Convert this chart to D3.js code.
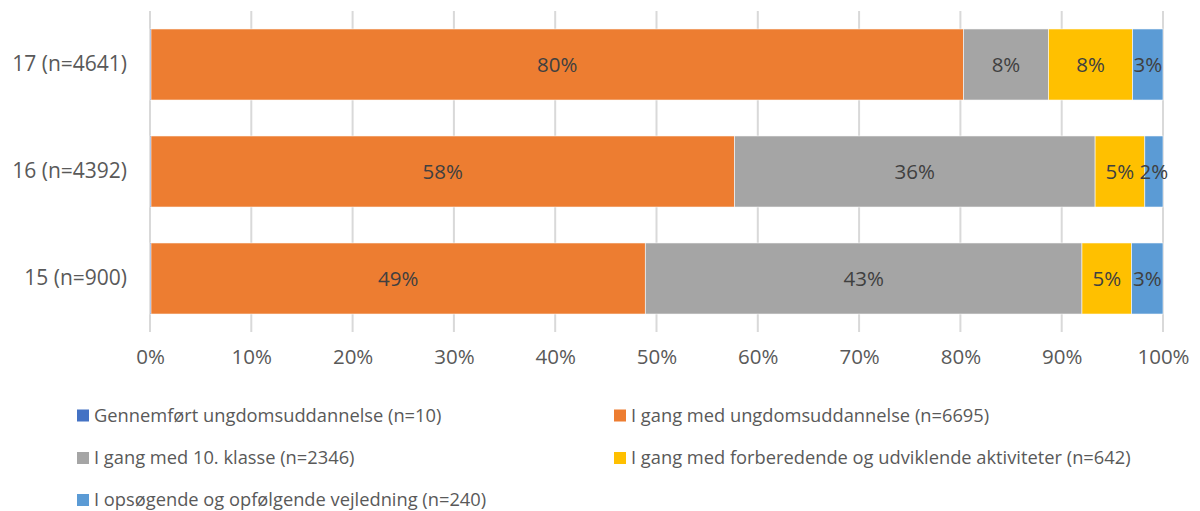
<!DOCTYPE html>
<html><head><meta charset="utf-8">
<script src="https://cdn.jsdelivr.net/npm/d3@7"></script>
<style>body{margin:0;background:#fff}svg{display:block}</style>
</head><body>
<svg id="c" width="1200" height="511"></svg>
<script>
const categories = ["17 (n=4641)", "16 (n=4392)", "15 (n=900)"];
const seriesNames = [
  "Gennemført ungdomsuddannelse (n=10)",
  "I gang med ungdomsuddannelse (n=6695)",
  "I gang med 10. klasse (n=2346)",
  "I gang med forberedende og udviklende aktiviteter (n=642)",
  "I opsøgende og opfølgende vejledning (n=240)"
];
const gennemfoert = [0.1, 0.1, 0.1];
const ungdomsudd = [80.2, 57.6, 48.8];
const tiendeKlasse = [8.4, 35.6, 43.1];
const forberedende = [8.3, 4.9, 4.9];
const vejledning = [3.0, 1.8, 3.1];
const labels17 = ["", "80%", "8%", "8%", "3%"];
const labels16 = ["", "58%", "36%", "5%", "2%"];
const labels15 = ["", "49%", "43%", "5%", "3%"];
const xTicks = [0, 10, 20, 30, 40, 50, 60, 70, 80, 90, 100];
const colors = ["#4472C4", "#ED7D31", "#A5A5A5", "#FFC000", "#5B9BD5"];

const series = [gennemfoert, ungdomsudd, tiendeKlasse, forberedende, vejledning];
const labelSets = [labels17, labels16, labels15];
const font = "'Open Sans', sans-serif";

const svg = d3.select("#c");
const x = d3.scaleLinear().domain([0, 100]).range([150, 1163]);
const y = d3.scaleBand().domain(categories).range([11, 332]).paddingInner(0.336).paddingOuter(0.168);

// gridlines
svg.append("g").selectAll("line").data(xTicks).join("line")
  .attr("x1", d => x(d)).attr("x2", d => x(d))
  .attr("y1", 11).attr("y2", 332)
  .attr("stroke", "#d9d9d9").attr("stroke-width", 2);

// stacked data
const rows = categories.map((c, i) => {
  const o = {cat: c};
  series.forEach((s, k) => o["s" + k] = s[i]);
  return o;
});
const keys = series.map((s, k) => "s" + k);
const stacked = d3.stack().keys(keys)(rows);

const g = svg.append("g");
stacked.forEach((layer, k) => {
  g.selectAll(null).data(layer).join("rect")
    .attr("x", d => x(d[0]))
    .attr("width", d => Math.max(0, x(d[1]) - x(d[0])))
    .attr("y", d => y(d.data.cat))
    .attr("height", y.bandwidth())
    .attr("fill", colors[k])
    .attr("stroke", "#fff").attr("stroke-width", 0.8).attr("stroke-opacity", 0.7);
});
stacked.forEach((layer, k) => {
  g.selectAll(null).data(layer).join("text")
    .attr("x", d => (x(d[0]) + x(d[1])) / 2)
    .attr("y", d => y(d.data.cat) + y.bandwidth() / 2)
    .attr("dy", "0.35em")
    .attr("text-anchor", "middle")
    .attr("font-family", font).attr("font-size", 20.5)
    .attr("fill", "#404040")
    .text((d, i) => labelSets[i][k]);
});

// y axis labels
const yAxis = d3.axisLeft(y).tickSize(0).tickPadding(0);
const ya = svg.append("g").attr("transform", "translate(127,0)").call(yAxis);
ya.select(".domain").remove();
ya.selectAll("text").attr("font-family", font).attr("font-size", 21).attr("fill", "#595959");

// x axis labels
const xAxis = d3.axisBottom(x).tickValues(xTicks).tickFormat(d => d + "%").tickSize(0).tickPadding(0);
const xa = svg.append("g").attr("transform", "translate(0,349)").call(xAxis);
xa.select(".domain").remove();
xa.selectAll("text").attr("font-family", font).attr("font-size", 20.5).attr("fill", "#595959");

// legend
const legPos = [[77, 415.5], [614, 415.5], [77, 458], [614, 458], [77, 500]];
const leg = svg.append("g");
seriesNames.forEach((n, k) => {
  const [lx, ly] = legPos[k];
  leg.append("rect").attr("x", lx).attr("y", ly - 6).attr("width", 12).attr("height", 12).attr("fill", colors[k]);
  leg.append("text").attr("x", lx + 17).attr("y", ly).attr("dy", "0.35em")
    .attr("font-family", font).attr("font-size", 18.3).attr("fill", "#595959").text(n);
});
</script>
</body></html>
